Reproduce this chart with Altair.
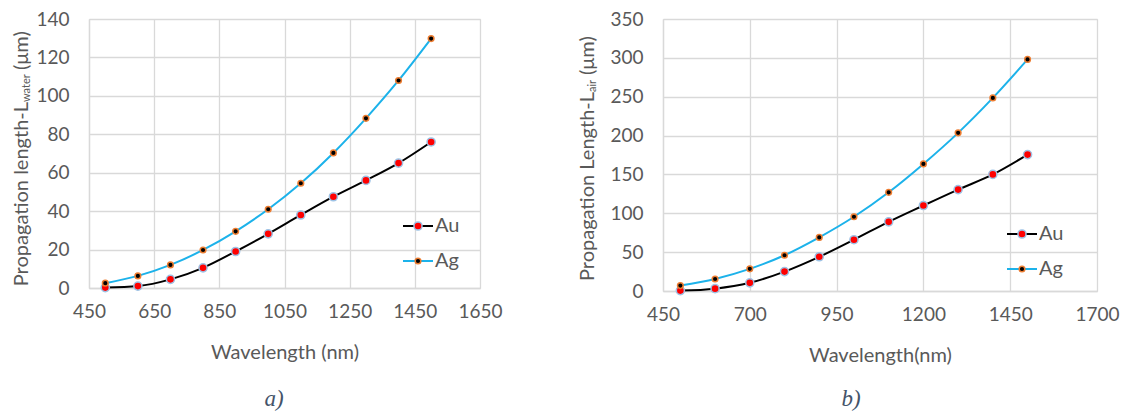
import altair as alt
import pandas as pd

# ---- data ----
wavelength = [500, 600, 700, 800, 900, 1000, 1100, 1200, 1300, 1400, 1500]
au_water = [0.2, 1.0, 4.5, 10.5, 19.0, 28.2, 38.0, 47.5, 56.0, 65.0, 76.0]
ag_water = [2.5, 6.3, 12.0, 19.8, 29.5, 41.0, 54.5, 70.3, 88.3, 108.0, 129.8]
au_air = [0.5, 3.0, 10.5, 25.0, 44.0, 66.0, 89.0, 110.0, 130.5, 150.0, 175.5]
ag_air = [7.0, 15.5, 28.5, 46.0, 69.0, 95.5, 127.0, 163.5, 203.5, 248.5, 298.0]

metals = ["Au", "Ag"]
x_ticks_a = [450, 650, 850, 1050, 1250, 1450, 1650]
y_ticks_a = [0, 20, 40, 60, 80, 100, 120, 140]
x_ticks_b = [450, 700, 950, 1200, 1450, 1700]
y_ticks_b = [0, 50, 100, 150, 200, 250, 300, 350]

FONT = "Lato"
GRAY = "#595959"
GRID = "#d9d9d9"
AU_LINE, AG_LINE = "#000000", "#1cb2ea"
AU_FILL, AU_STROKE = "#ff0000", "#9dc3e6"
AG_FILL, AG_STROKE = "#000000", "#ed7d31"
AU_SIZE, AG_SIZE = 66, 32


def long_df(au, ag):
    rows = []
    for w, v in zip(wavelength, au):
        rows.append({"wl": w, "val": v, "metal": "Au"})
    for w, v in zip(wavelength, ag):
        rows.append({"wl": w, "val": v, "metal": "Ag"})
    return pd.DataFrame(rows)


def panel(df, xticks, yticks, w, h, xtitle, ytitle_main, ytitle_sub, sub_start,
          unit_start, base_x, leg_x, leg_y, caption, cap_x, anchor=False):
    xs = alt.Scale(domain=[xticks[0], xticks[-1]], nice=False, zero=False)
    ys = alt.Scale(domain=[yticks[0], yticks[-1]], nice=False)
    xax = alt.Axis(values=xticks, title=xtitle, grid=True, gridColor=GRID, gridWidth=1.3,
                   domainColor=GRID, domainWidth=1.3, ticks=False, tickSize=0,
                   labelFlush=False, labelOverlap=False,
                   labelFont=FONT, labelFontSize=19, labelColor=GRAY, labelPadding=14,
                   titleFont=FONT, titleFontSize=20, titleColor=GRAY, titleFontWeight="normal",
                   titlePadding=21, format="d")
    yax = alt.Axis(values=yticks, title=None, grid=True, gridColor=GRID, gridWidth=1.3,
                   domainColor=GRID, domainWidth=1.3, ticks=False, tickSize=0,
                   labelFlush=False, labelOverlap=False,
                   labelFont=FONT, labelFontSize=19, labelColor=GRAY, labelPadding=20,
                   format="d")
    base = alt.Chart(df)
    X = alt.X("wl:Q", scale=xs, axis=xax)
    Y = alt.Y("val:Q", scale=ys, axis=yax)
    line_au = base.transform_filter(alt.datum.metal == "Au").mark_line(
        color=AU_LINE, strokeWidth=2, interpolate="monotone").encode(x=X, y=Y)
    line_ag = base.transform_filter(alt.datum.metal == "Ag").mark_line(
        color=AG_LINE, strokeWidth=2, interpolate="monotone").encode(x=X, y=Y)
    pt_au = base.transform_filter(alt.datum.metal == "Au").mark_point(
        shape="circle", filled=True, fill=AU_FILL, stroke=AU_STROKE, strokeWidth=1.5,
        size=AU_SIZE, opacity=1).encode(x=X, y=Y)
    pt_ag = base.transform_filter(alt.datum.metal == "Ag").mark_point(
        shape="circle", filled=True, fill=AG_FILL, stroke=AG_STROKE, strokeWidth=1.5,
        size=AG_SIZE, opacity=1).encode(x=X, y=Y)

    layers = [line_au, line_ag, pt_au, pt_ag]

    # y-axis title pieces (main text, subscript, unit), reading bottom to top
    tdf = pd.DataFrame({"k": [0]})
    tb = alt.Chart(tdf)
    layers.append(tb.mark_text(text=ytitle_main, angle=270, align="right",
                               baseline="alphabetic", font=FONT, fontSize=20,
                               color=GRAY).encode(
        x=alt.value(base_x), y=alt.value(sub_start)))
    layers.append(tb.mark_text(text=ytitle_sub, angle=270, align="left",
                               baseline="alphabetic", font=FONT, fontSize=11,
                               color=GRAY).encode(
        x=alt.value(base_x + 2), y=alt.value(sub_start)))
    layers.append(tb.mark_text(text="(\u03bcm)", angle=270, align="left",
                               baseline="alphabetic", font=FONT, fontSize=20,
                               color=GRAY).encode(
        x=alt.value(base_x), y=alt.value(unit_start)))

    # legend
    for i, (m, lc, fc, sc, sz) in enumerate([("Au", AU_LINE, AU_FILL, AU_STROKE, AU_SIZE),
                                              ("Ag", AG_LINE, AG_FILL, AG_STROKE, AG_SIZE)]):
        ly = leg_y + i * 35
        layers.append(tb.mark_rule(color=lc, strokeWidth=2).encode(
            x=alt.value(leg_x), x2=alt.value(leg_x + 30), y=alt.value(ly)))
        layers.append(tb.mark_point(shape="circle", filled=True, fill=fc, stroke=sc,
                                    strokeWidth=1.5, size=sz, opacity=1).encode(
            x=alt.value(leg_x + 15), y=alt.value(ly)))
        layers.append(tb.mark_text(text=m, align="left", baseline="middle", font=FONT,
                                   fontSize=20, color=GRAY).encode(
            x=alt.value(leg_x + 32), y=alt.value(ly)))

    # caption
    layers.append(tb.mark_text(text=caption, align="center", baseline="middle",
                               font="Liberation Serif", fontStyle="italic", fontSize=23,
                               color="#44546a").encode(x=alt.value(cap_x), y=alt.value(380)))

    if anchor:
        layers.append(tb.mark_rule(strokeWidth=1, opacity=0).encode(
            x=alt.value(-80.5), y=alt.value(-10.5), y2=alt.value(0)))

    return alt.layer(*layers).properties(width=w, height=h)


left = panel(long_df(au_water, ag_water), x_ticks_a, y_ticks_a, 391, 269,
             "Wavelength (nm)", "Propagation length-L", "water", 83, 51, -61,
             314, 207, "a)", 185, anchor=True)
right = panel(long_df(au_air, ag_air), x_ticks_b, y_ticks_b, 434, 272,
              "Wavelength(nm)", "Propagation Length-L", "air", 73, 56, -69,
              344, 215, "b)", 188)

chart = alt.hconcat(left, right, spacing=183, bounds="flush").properties(
    padding=0).configure_view(stroke=None).configure(background="white")

chart.save("out.html", embed_options={"renderer": "svg", "actions": False})
